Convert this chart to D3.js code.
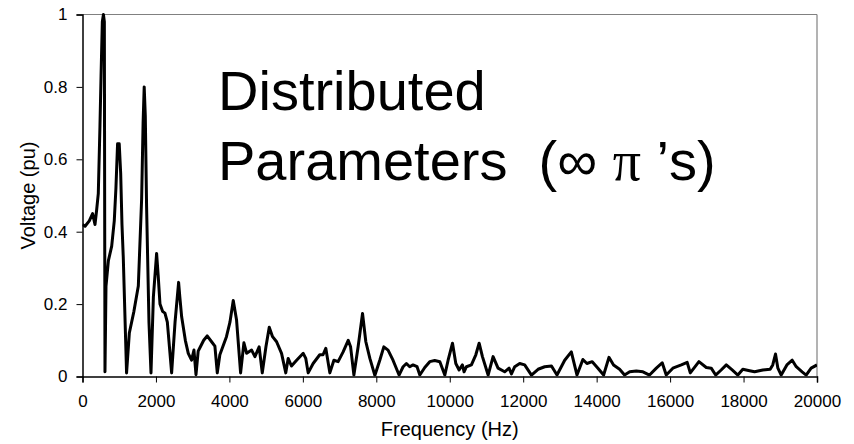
<!DOCTYPE html>
<html>
<head>
<meta charset="utf-8">
<script src="https://cdn.jsdelivr.net/npm/d3@7"></script>
<style>
  body { margin: 0; background: #fff; }
  svg text { font-family: "Liberation Sans", Arial, sans-serif; fill: #000; }
</style>
</head>
<body>
<div id="chart"></div>
<script>
// frequency response
const freqHz = [0, 70, 185, 275, 340, 385, 430, 475, 505, 540, 570, 595, 612, 640, 705, 795, 865, 910, 955, 1000,
  1040, 1075, 1110, 1200, 1275, 1400, 1520, 1610, 1650, 1680, 1710, 1745, 1810, 1865, 1930, 2018, 2060, 2110, 2180, 2245,
  2310, 2427, 2520, 2617, 2650, 2700, 2800, 2880, 2970, 3035, 3090, 3150, 3200, 3300, 3395, 3515, 3605, 3670, 3740, 3920,
  4015, 4105, 4195, 4305, 4395, 4470, 4605, 4695, 4810, 4895, 4995, 5085, 5175, 5285, 5420, 5535, 5600, 5690, 5830, 6010,
  6080, 6145, 6280, 6460, 6550, 6625, 6735, 6845, 6960, 7097, 7235, 7300, 7390, 7505, 7625, 7715, 7825, 7960, 8095, 8205,
  8320, 8455, 8620, 8730, 8820, 8910, 9000, 9110, 9185, 9320, 9455, 9590, 9730, 9865, 9955, 10075, 10165, 10255, 10345, 10390,
  10455, 10590, 10710, 10800, 10890, 11045, 11180, 11315, 11495, 11615, 11680, 11770, 11905, 12040, 12225, 12405, 12585, 12770, 12920, 13130,
  13310, 13465, 13625, 13735, 13880, 14035, 14190, 14335, 14460, 14625, 14760, 14900, 15080, 15260, 15440, 15625, 15785, 15895, 16075, 16305,
  16465, 16550, 16785, 16985, 17120, 17240, 17390, 17530, 17690, 17845, 17980, 18165, 18300, 18525, 18725, 18795, 18870, 18935, 19025, 19180,
  19325, 19435, 19595, 19705, 19840, 20000];
const voltagePu = [0.42, 0.415, 0.43, 0.45, 0.42, 0.46, 0.505, 0.69, 0.83, 0.98, 1.0, 0.98, 0.013, 0.25, 0.32, 0.36, 0.43, 0.52, 0.643, 0.643,
  0.56, 0.42, 0.33, 0.01, 0.12, 0.18, 0.25, 0.49, 0.70, 0.80, 0.72, 0.47, 0.15, 0.01, 0.22, 0.34, 0.28, 0.20, 0.18, 0.175,
  0.15, 0.01, 0.15, 0.26, 0.22, 0.165, 0.10, 0.064, 0.045, 0.073, 0.005, 0.07, 0.08, 0.10, 0.112, 0.096, 0.084, 0.01, 0.06, 0.11,
  0.15, 0.21, 0.156, 0.01, 0.093, 0.064, 0.073, 0.055, 0.082, 0.01, 0.082, 0.136, 0.11, 0.096, 0.064, 0.01, 0.05, 0.029, 0.045, 0.064,
  0.05, 0.01, 0.036, 0.06, 0.06, 0.078, 0.01, 0.045, 0.041, 0.068, 0.10, 0.082, 0.004, 0.082, 0.174, 0.096, 0.05, 0.003, 0.045, 0.082,
  0.073, 0.045, 0.004, 0.027, 0.036, 0.027, 0.032, 0.027, 0.004, 0.025, 0.041, 0.044, 0.041, 0.004, 0.045, 0.092, 0.036, 0.018, 0.032, 0.013,
  0.027, 0.032, 0.06, 0.092, 0.055, 0.004, 0.055, 0.023, 0.013, 0.023, 0.007, 0.027, 0.036, 0.032, 0.004, 0.02, 0.027, 0.029, 0.004, 0.045,
  0.068, 0.004, 0.047, 0.036, 0.041, 0.023, 0.004, 0.053, 0.032, 0.02, 0.004, 0.013, 0.015, 0.013, 0.004, 0.023, 0.038, 0.004, 0.023, 0.032,
  0.039, 0.01, 0.041, 0.025, 0.023, 0.004, 0.018, 0.032, 0.018, 0.004, 0.02, 0.016, 0.013, 0.018, 0.02, 0.032, 0.062, 0.023, 0.004, 0.032,
  0.045, 0.027, 0.013, 0.004, 0.023, 0.032];

const xTicks = [0, 2000, 4000, 6000, 8000, 10000, 12000, 14000, 16000, 18000, 20000];
const yTicks = [0, 0.2, 0.4, 0.6, 0.8, 1];

const W = 854, H = 444;
const margin = {top: 14.5, right: 37, bottom: 67.5, left: 82.5};
const w = W - margin.left - margin.right;
const h = H - margin.top - margin.bottom;

const x = d3.scaleLinear().domain([0, 20000]).range([0, w]);
const y = d3.scaleLinear().domain([0, 1]).range([h, 0]);

const svg = d3.select('#chart').append('svg')
  .attr('width', W)
  .attr('height', H);

const g = svg.append('g')
  .attr('transform', `translate(${margin.left},${margin.top})`);

svg.append('defs').append('clipPath').attr('id', 'plotClip')
  .append('rect').attr('x', 0).attr('y', -2).attr('width', w).attr('height', h + 2);

// frame: grey top and right
g.append('line').attr('x1', 0).attr('x2', w).attr('y1', 0).attr('y2', 0)
  .attr('stroke', '#808080').attr('stroke-width', 1);
g.append('line').attr('x1', w).attr('x2', w).attr('y1', 0).attr('y2', h)
  .attr('stroke', '#808080').attr('stroke-width', 1.2);

const xAxis = g.append('g')
  .attr('transform', `translate(0,${h})`)
  .call(d3.axisBottom(x).tickValues(xTicks).tickSize(6).tickPadding(12).tickFormat(d3.format('d')));
const yAxis = g.append('g')
  .call(d3.axisLeft(y).tickValues(yTicks).tickSize(6).tickPadding(9).tickFormat(d => d === 0 || d === 1 ? d : d3.format('.1f')(d)));

[xAxis, yAxis].forEach(a => {
  a.selectAll('path').attr('stroke', '#000').attr('stroke-width', 1.5);
  a.selectAll('line').attr('stroke', '#000');
  a.selectAll('text').style('font-size', '17px').attr('fill', '#000');
});

const line = d3.line()
  .x((d, i) => x(freqHz[i]))
  .y(d => y(d));

g.append('path')
  .datum(voltagePu)
  .attr('clip-path', 'url(#plotClip)')
  .attr('fill', 'none')
  .attr('stroke', '#000')
  .attr('stroke-width', 3)
  .attr('stroke-linejoin', 'round')
  .attr('d', line);

// axis titles
svg.append('text')
  .attr('x', margin.left + w / 2)
  .attr('y', 436)
  .attr('text-anchor', 'middle')
  .style('font-size', '20px')
  .text('Frequency (Hz)');

svg.append('text')
  .attr('transform', `translate(35,${margin.top + h / 2}) rotate(-90)`)
  .attr('text-anchor', 'middle')
  .style('font-size', '20px')
  .text('Voltage (pu)');

// big annotation
const note = svg.append('g').style('font-size', '56px');
note.append('text')
  .attr('x', 218).attr('y', 110)
  .text('Distributed');
const line2 = note.append('text')
  .attr('x', 218).attr('y', 180);
line2.append('tspan').text('Parameters\u00A0\u00A0(\u221E\u00A0');
line2.append('tspan').style('font-family', '"Liberation Serif", "DejaVu Serif", serif').text('\u03C0');
line2.append('tspan').text('\u00A0\u2019s)');
</script>
</body>
</html>
